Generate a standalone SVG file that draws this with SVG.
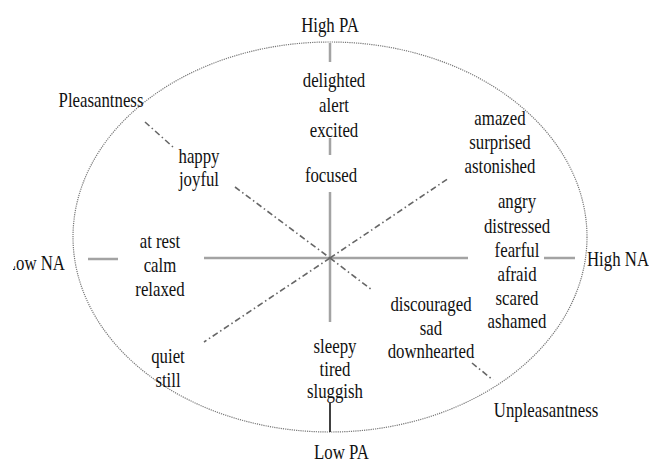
<svg xmlns="http://www.w3.org/2000/svg" width="649" height="464" viewBox="0 0 649 464">
<style>
text{font-family:"Liberation Serif","Times New Roman",serif;font-size:21px;fill:#111;text-anchor:middle}
.axis{stroke:#a3a3a3;stroke-width:2.5;fill:none}
.diag{stroke:#666;stroke-width:1.6;fill:none;stroke-dasharray:6 3 1.5 3}
.ell{stroke:#777;stroke-width:1.2;fill:none;stroke-dasharray:1.2 1}
</style>
<defs>
<clipPath id="clipL"><rect x="13" y="230" width="100" height="60"/></clipPath>
</defs>
<rect width="649" height="464" fill="#fff"/>
<ellipse class="ell" cx="330" cy="237" rx="257" ry="195"/>
<g id="connectors">
<line class="axis" x1="330" y1="43" x2="330" y2="62"/>
<line class="axis" x1="330" y1="138" x2="330" y2="155"/>
<line class="axis" x1="330" y1="192" x2="330" y2="322"/>
<line class="axis" x1="88" y1="259" x2="118" y2="259"/>
<line class="axis" x1="204" y1="258" x2="468" y2="258"/>
<line class="axis" x1="544" y1="258" x2="575" y2="258"/>
<line x1="330" y1="403" x2="330" y2="432" stroke="#111" stroke-width="1.6"/>
<line class="diag" x1="145" y1="122" x2="173" y2="147"/>
<line class="diag" x1="235" y1="187" x2="330" y2="258"/>
<line class="diag" x1="330" y1="258" x2="372" y2="290"/>
<line class="diag" x1="472" y1="363" x2="493" y2="380"/>
<line class="diag" x1="330" y1="258" x2="449" y2="178"/>
<line class="diag" x1="330" y1="258" x2="204" y2="342"/>
</g>
<g transform="scale(0.8,1)">
<g id="highPA"><text x="412.5" y="32">High PA</text></g>
<g id="delighted"><text x="417.5" y="87">delighted</text><text x="417.5" y="112">alert</text><text x="417.5" y="137">excited</text></g>
<g id="focused"><text x="413.75" y="182">focused</text></g>
<g id="pleasantness"><text x="126.25" y="107">Pleasantness</text></g>
<g id="happy"><text x="248.75" y="163">happy</text><text x="248.75" y="186">joyful</text></g>
<g id="amazed"><text x="625" y="125">amazed</text><text x="625" y="149">surprised</text><text x="625" y="173">astonished</text></g>
<g id="angry"><text x="646.25" y="208">angry</text><text x="646.25" y="233">distressed</text><text x="646.25" y="257">fearful</text><text x="646.25" y="281">afraid</text><text x="646.25" y="305">scared</text><text x="646.25" y="328">ashamed</text></g>
<g id="highNA"><text x="733.75" y="266" style="text-anchor:start">High NA</text></g>
<g id="atrest"><text x="200" y="248">at rest</text><text x="200" y="272">calm</text><text x="200" y="296">relaxed</text></g>
<g id="quiet"><text x="210" y="363">quiet</text><text x="210" y="387">still</text></g>
<g id="sleepy"><text x="418.75" y="353">sleepy</text><text x="418.75" y="376">tired</text><text x="418.75" y="398">sluggish</text></g>
<g id="discouraged"><text x="538.75" y="311">discouraged</text><text x="538.75" y="335">sad</text><text x="538.75" y="358">downhearted</text></g>
<g id="unpleasantness"><text x="682.5" y="417">Unpleasantness</text></g>
<g id="lowPA"><text x="426.9" y="459">Low PA</text></g>
</g>
<g id="lowNA" clip-path="url(#clipL)"><g transform="scale(0.8,1)"><text x="81.25" y="270" style="text-anchor:end">Low NA</text></g></g>
</svg>
